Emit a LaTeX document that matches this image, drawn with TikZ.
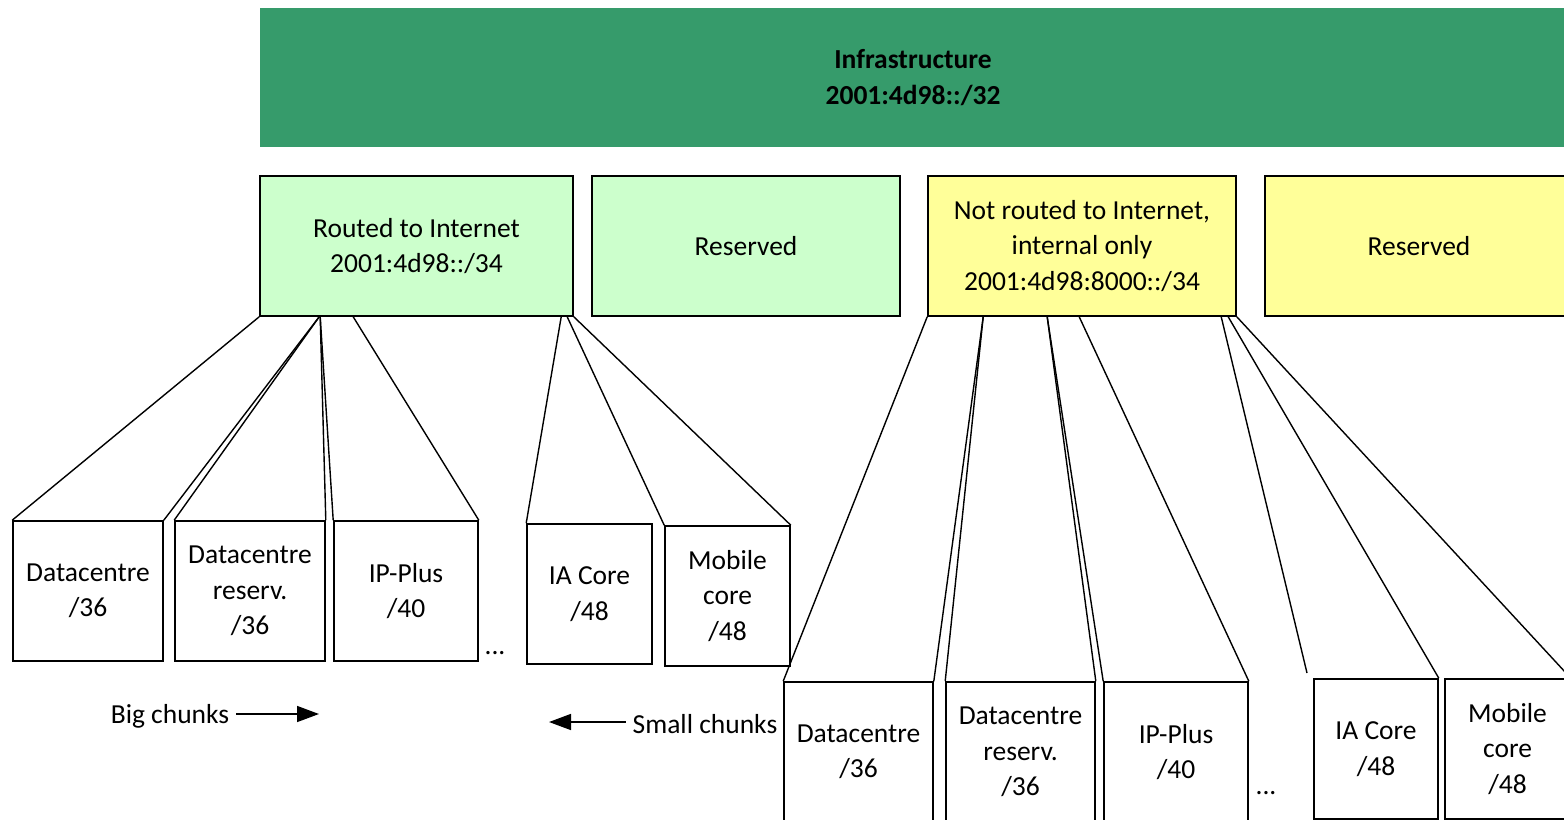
\documentclass[tikz,border=0pt]{standalone}
\usepackage{fontspec}
\setmainfont{Carlito}
\usetikzlibrary{arrows.meta,calc}
\definecolor{infra}{RGB}{54,155,107}
\definecolor{lgreen}{RGB}{204,255,204}
\definecolor{lyellow}{RGB}{255,255,153}
\begin{document}
\begin{tikzpicture}[x=1bp,y=-1bp,
  txt/.style={font=\fontsize{27.5bp}{35.5bp}\selectfont, align=center, inner sep=0pt},
  cbox/.style={txt, draw, line width=1.6bp, minimum height=140bp},
  topbox/.style={cbox, minimum width=308bp},
  link/.style={line width=1.4bp},
  arr/.style={line width=1.5bp, -{Triangle[length=22bp,width=16bp]}}]
\useasboundingbox (0,0) rectangle (1564,819);
\clip (0,0) rectangle (1564,819);
% top
\node[txt, fill=infra, minimum width=1306bp, minimum height=139bp, font=\fontsize{27.5bp}{35.5bp}\selectfont\bfseries] (infra) at (913,77.5) {Infrastructure\\2001:4d98::/32};
\node[topbox, fill=lgreen, minimum width=313bp] (routed) at (416.5,246) {Routed to Internet\\2001:4d98::/34};
\node[topbox, fill=lgreen] (res1) at (746,246) {Reserved};
\node[topbox, fill=lyellow] (notr) at (1082,246) {Not routed to Internet,\\internal only\\2001:4d98:8000::/34};
\node[topbox, fill=lyellow] (res2) at (1419,246) {Reserved};
% row 1
\node[cbox, minimum width=150bp] (dc1) at (88,591) {Datacentre\\/36};
\node[cbox, minimum width=150bp] (dcr1) at (250,591) {Datacentre\\reserv.\\/36};
\node[cbox, minimum width=144bp] (ipp1) at (406,591) {IP-Plus\\/40};
\node[txt] (dots1) at (495,653) {...};
\node[cbox, minimum width=125bp] (ia1) at (589.5,594) {IA Core\\/48};
\node[cbox, minimum width=125bp] (mob1) at (727.5,596) {Mobile\\core\\/48};
% row 2
\node[cbox, minimum width=149bp] (dc2) at (858.5,752) {Datacentre\\/36};
\node[cbox, minimum width=149bp] (dcr2) at (1020.5,752) {Datacentre\\reserv.\\/36};
\node[cbox, minimum width=144bp] (ipp2) at (1176,752) {IP-Plus\\/40};
\node[txt] (dots2) at (1266,793) {...};
\node[cbox, minimum width=124bp] (ia2) at (1376,749) {IA Core\\/48};
\node[cbox, minimum width=125bp] (mob2) at (1507.5,749) {Mobile\\core\\/48};
% connectors from routed
\draw[link] (routed.south west) -- (dc1.north west);
\draw[link] ([xshift=60bp]routed.south west) -- (dc1.north east);
\draw[link] ([xshift=60bp]routed.south west) -- (dcr1.north west);
\draw[link] ([xshift=61bp]routed.south west) -- (dcr1.north east);
\draw[link] ([xshift=61bp]routed.south west) -- (ipp1.north west);
\draw[link] ([xshift=94bp]routed.south west) -- (ipp1.north east);
\draw[link] ([xshift=302bp]routed.south west) -- (ia1.north west);
\draw[link] ([xshift=308bp]routed.south west) -- (mob1.north west);
\draw[link] (routed.south east) -- (mob1.north east);
% connectors from notr
\coordinate (freeend) at (1307,673);
\draw[link] (notr.south west) -- (dc2.north west);
\draw[link] ([xshift=56bp]notr.south west) -- (dc2.north east);
\draw[link] ([xshift=56bp]notr.south west) -- (dcr2.north west);
\draw[link] ([xshift=120bp]notr.south west) -- (dcr2.north east);
\draw[link] ([xshift=120bp]notr.south west) -- (ipp2.north west);
\draw[link] ([xshift=152bp]notr.south west) -- (ipp2.north east);
\draw[link] ([xshift=294bp]notr.south west) -- (freeend);
\draw[link] ([xshift=301bp]notr.south west) -- (ia2.north east);
\draw[link] (notr.south east) -- (mob2.north east);
% arrows
\node[txt, inner xsep=7bp] (big) at (170,716) {Big chunks};
\coordinate (bigtip) at (319,714);
\draw[arr] (big.east |- bigtip) -- (bigtip);
\node[txt, inner xsep=7bp] (small) at (705,724) {Small chunks};
\coordinate (smalltip) at (549,722);
\draw[arr] (small.west |- smalltip) -- (smalltip);
\end{tikzpicture}
\end{document}
